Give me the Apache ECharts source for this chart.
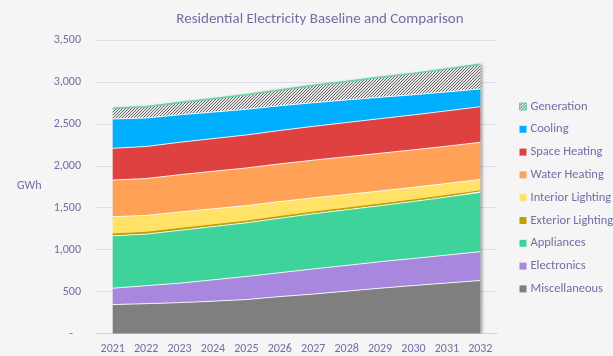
<!DOCTYPE html>
<html>
<head>
<meta charset="utf-8">
<script src="https://cdn.jsdelivr.net/npm/echarts@6/dist/echarts.min.js"></script>
<style>
html,body{margin:0;padding:0;background:#f5f5f5;}
#chart{width:613px;height:356px;}
</style>
</head>
<body>
<div id="chart"></div>
<script>
// ---- data (GWh) ----
var years = ['2021','2022','2023','2024','2025','2026','2027','2028','2029','2030','2031','2032'];
var miscellaneous   = [345, 356, 368, 385, 405, 440, 470, 505, 540, 572, 602, 632];
var electronics     = [195, 214, 232, 255, 275, 285, 300, 307, 316, 323, 333, 344];
var appliances      = [625, 615, 630, 635, 640, 650, 658, 664, 668, 680, 693, 707];
var exteriorLighting= [22, 21, 21, 20, 20, 20, 19, 19, 19, 18, 18, 18];
var interiorLighting= [206, 202, 198, 192, 185, 178, 170, 163, 157, 150, 143, 136];
var waterHeating    = [437, 440, 445, 447, 449, 450, 450, 450, 449, 447, 445, 443];
var spaceHeating    = [378, 382, 386, 390, 394, 398, 403, 408, 413, 417, 421, 425];
var cooling         = [350, 340, 328, 316, 305, 295, 282, 269, 255, 240, 226, 211];
var generation      = [127, 135, 148, 160, 175, 188, 205, 220, 238, 255, 274, 294];
var legendOrder = ['Generation','Cooling','Space Heating','Water Heating','Interior Lighting','Exterior Lighting','Appliances','Electronics','Miscellaneous'];

var FONT = 'Carlito, Calibri, Lato, sans-serif';
var TXT = '#6f6fa6';

// hatch pattern
var pc = document.createElement('canvas');
pc.width = 3; pc.height = 3;
var pctx = pc.getContext('2d');
pctx.fillStyle = '#e6e6e6'; pctx.fillRect(0,0,3,3);
pctx.fillStyle = '#666666';
for (var y = 0; y < 3; y++) { pctx.fillRect(2 - y, y, 1, 1); }

function mk(name, data, color, extra) {
  var s = {
    name: name, type: 'line', stack: 'total', data: data,
    symbol: 'none', smooth: false, z: 3,
    lineStyle: { color: 'rgba(255,255,255,0.85)', width: 1 },
    itemStyle: { color: color },
    areaStyle: { color: color, opacity: 1 },
    emphasis: { disabled: true }
  };
  if (extra) { for (var k in extra) s[k] = extra[k]; }
  return s;
}

// totals, used only for the soft drop shadow behind the stack
var totals = years.map(function (_, i) {
  return miscellaneous[i] + electronics[i] + appliances[i] + exteriorLighting[i] +
    interiorLighting[i] + waterHeating[i] + spaceHeating[i] + cooling[i] + generation[i];
});

var series = [
  mk('Miscellaneous', miscellaneous, '#7f7f7f'),
  mk('Electronics', electronics, '#a887de'),
  mk('Appliances', appliances, '#3dd39b'),
  mk('Exterior Lighting', exteriorLighting, '#c0a000', { lineStyle: { color: '#b89a00', width: 1 } }),
  mk('Interior Lighting', interiorLighting, '#ffe266'),
  mk('Water Heating', waterHeating, '#ffa157'),
  mk('Space Heating', spaceHeating, '#df4040'),
  mk('Cooling', cooling, '#00b0ff'),
  {
    name: 'Generation', type: 'line', stack: 'total', data: generation,
    symbol: 'none', z: 3,
    lineStyle: { color: '#5fd6a2', width: 1.5 },
    itemStyle: { color: { image: pc, repeat: 'repeat' }, borderColor: '#5fd6a2', borderWidth: 1 },
    areaStyle: { color: { image: pc, repeat: 'repeat' }, opacity: 1 },
    emphasis: { disabled: true }
  },
  {
    name: '_shadow', type: 'line', data: totals, symbol: 'none', z: 1, silent: true,
    lineStyle: { width: 0 },
    areaStyle: { color: '#f5f5f5', opacity: 1, shadowColor: 'rgba(0,0,0,0.35)', shadowBlur: 3, shadowOffsetX: 2, shadowOffsetY: 0 },
    emphasis: { disabled: true }
  }
];

var chart = echarts.init(document.getElementById('chart'));
chart.setOption({
  backgroundColor: '#f5f5f5',
  animation: false,
  title: {
    text: 'Residential Electricity Baseline and Comparison',
    left: 315, top: 7, textAlign: 'center',
    textStyle: { color: TXT, fontFamily: FONT, fontSize: 15, fontWeight: 'normal' }
  },
  grid: { left: 96, right: 116, top: 40, bottom: 22.5 },
  legend: {
    orient: 'vertical', left: 514, top: 95,
    icon: 'rect', itemWidth: 7, itemHeight: 7, itemGap: 9.8,
    textStyle: { color: TXT, fontFamily: FONT, fontSize: 12.5, padding: [0,0,0,-1] },
    data: legendOrder.map(function (n) {
      return n === 'Generation' ? { name: n, itemStyle: { borderColor: '#5fd6a2', borderWidth: 1 } } : { name: n };
    }),
    selectedMode: false
  },
  graphic: [{
    type: 'text', left: 17, top: 180,
    style: { text: 'GWh', fill: TXT, font: '12px ' + FONT }
  }],
  xAxis: {
    type: 'category', data: years, boundaryGap: true,
    axisLine: { show: true, lineStyle: { color: '#d3d3e3', width: 1 } },
    axisTick: { show: false },
    axisLabel: { color: TXT, fontFamily: FONT, fontSize: 12, margin: 9 }
  },
  yAxis: {
    type: 'value', min: 0, max: 3500, interval: 500,
    axisLine: { show: false }, axisTick: { show: false },
    splitLine: { lineStyle: { color: '#dcdcec', width: 1 } },
    axisLabel: {
      color: TXT, fontFamily: FONT, fontSize: 12, margin: 15,
      formatter: function (v) { return v === 0 ? '-   ' : v.toLocaleString('en-US'); }
    }
  },
  series: series
});
</script>
</body>
</html>
